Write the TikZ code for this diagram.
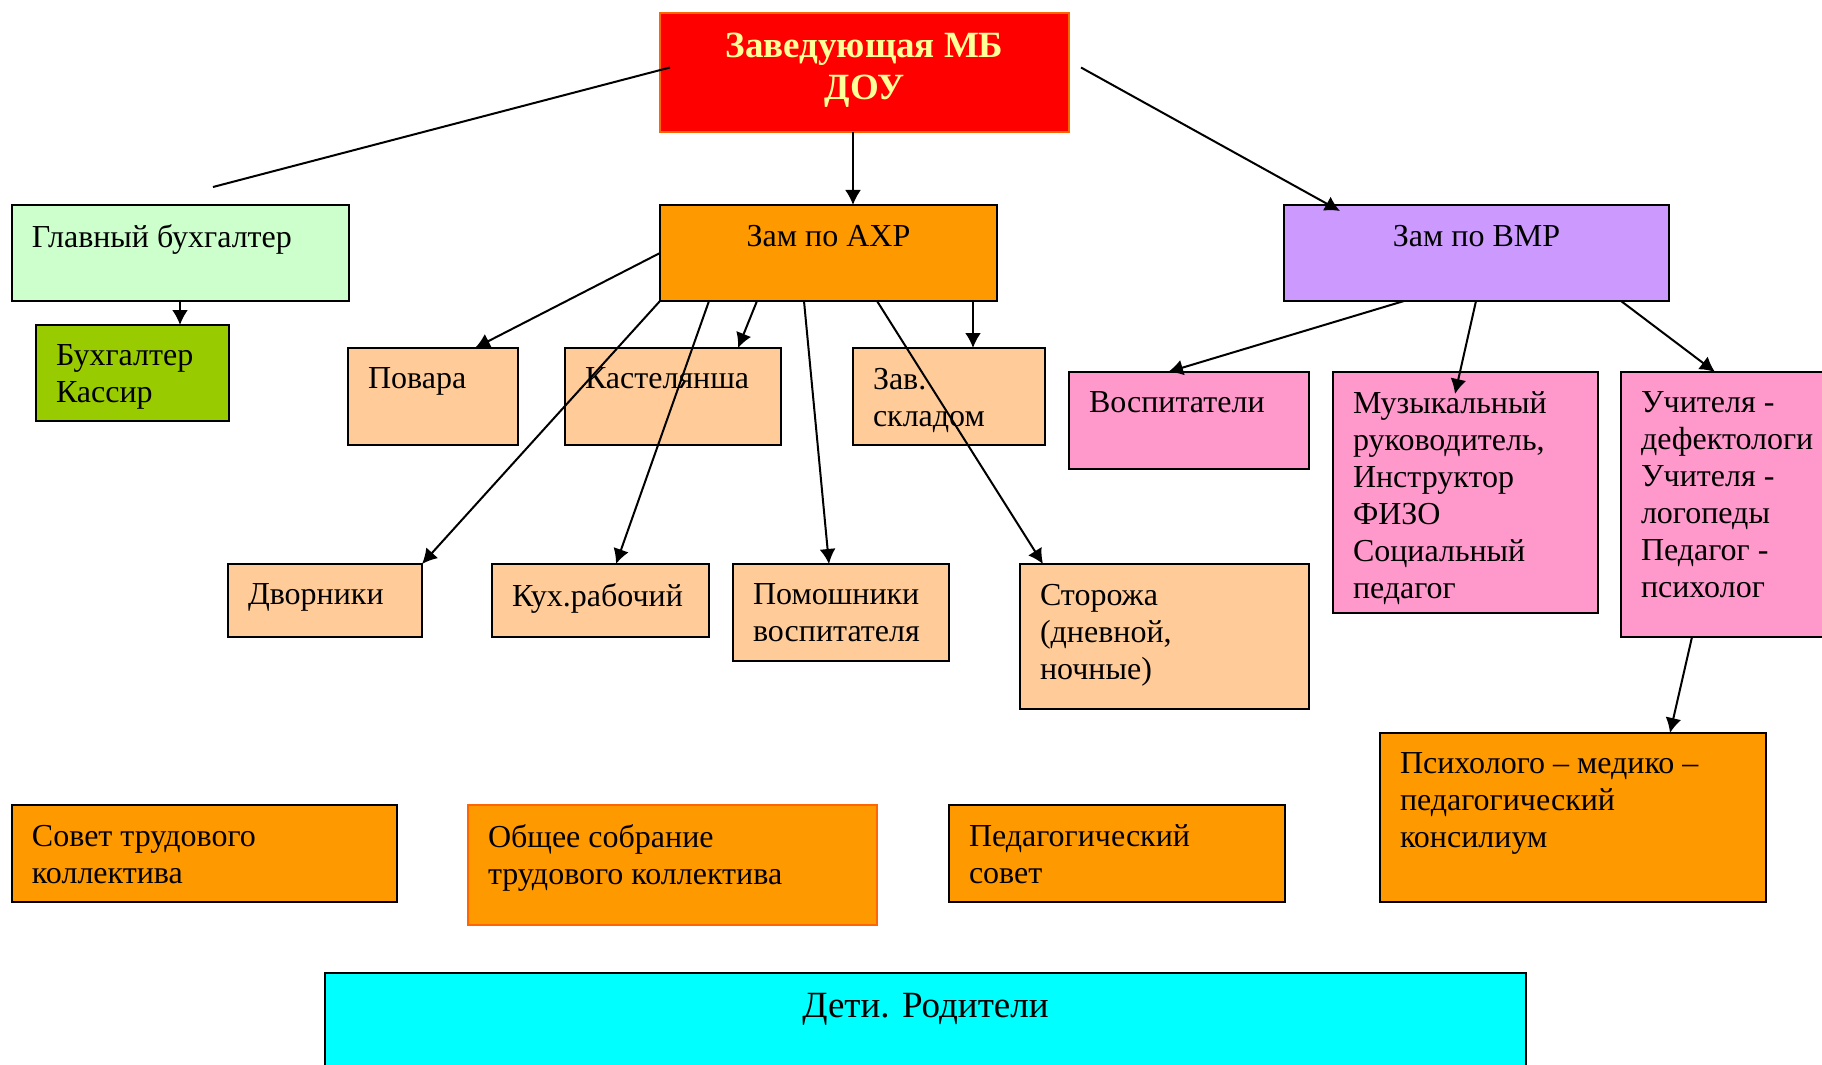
\documentclass[tikz,border=0pt]{standalone}
\usepackage{fontspec}
\setmainfont{Liberation Serif}
\usetikzlibrary{arrows.meta,calc}
\definecolor{headred}{HTML}{FF0000}
\definecolor{headline}{HTML}{FF6600}
\definecolor{headtext}{HTML}{FFFF99}
\definecolor{mint}{HTML}{CCFFCC}
\definecolor{lime}{HTML}{99CC00}
\definecolor{amber}{HTML}{FF9900}
\definecolor{lilac}{HTML}{CC99FF}
\definecolor{peach}{HTML}{FFCC99}
\definecolor{pinkbox}{HTML}{FF99CC}
\definecolor{aqua}{HTML}{00FFFF}
\newdimen\pxu \pxu=0.5pt
% box text: width, height (in px), text
\newcommand{\boxtext}[4][\raggedright]{\parbox[t][\dimexpr #3\pxu-20pt\relax][t]{\dimexpr #2\pxu-20pt\relax}{#1#4}}
\tikzset{
    box/.style ={draw, anchor=north west, inner sep=10pt, outer sep=0pt, font=\fontsize{16}{18.5}\selectfont},
    title/.style ={box, draw=headline, line width=0.8pt, fill=headred, text=headtext, font=\fontsize{18.5}{21}\selectfont\bfseries},
    staff/.style ={box, fill=peach},
    ped/.style ={box, fill=pinkbox},
    council/.style ={box, fill=amber}
}
\begin{document}
\begin{tikzpicture}[x=0.5pt, y=-0.5pt, line width=1pt, -{Latex[length=7.5pt,width=8pt]}]
    \useasboundingbox (0,0) rectangle (1822,1065);
    \clip (0,0) rectangle (1822,1065);

    \node[title] (head) at (660,13) {\boxtext[\centering]{409}{119}{Заведующая МБ\\ДОУ}};
    \node[box, fill=mint] (glavbuh) at (12,205) {\boxtext{337}{96}{Главный бухгалтер}};
    \node[box, fill=lime] (buhkass) at (36,325) {\boxtext{193}{96}{Бухгалтер\\Кассир}};
    \node[box, fill=amber] (zamahr) at (660,205) {\boxtext[\centering]{337}{96}{Зам по АХР}};
    \node[box, fill=lilac] (zamvmr) at (1284,205) {\boxtext[\centering]{385}{96}{Зам по ВМР}};

    \node[staff] (povara) at (348,348) {\boxtext{170}{97}{Повара}};
    \node[staff] (kastel) at (565,348) {\boxtext{216}{97}{Кастелянша}};
    \node[staff] (zavsklad) at (853,348) {\boxtext{192}{97}{Зав.\\складом}};
    \node[staff] (dvorn) at (228,564) {\boxtext{194}{73}{Дворники}};
    \node[staff] (kuhrab) at (492,564) {\boxtext{217}{73}{Кух.рабочий}};
    \node[staff] (pomvosp) at (733,564) {\boxtext{216}{97}{Помошники\\воспитателя}};
    \node[staff] (storozh) at (1020,564) {\boxtext{289}{145}{Сторожа\\(дневной,\\ночные)}};

    \node[ped] (vospit) at (1069,372) {\boxtext{240}{97}{Воспитатели}};
    \node[ped] (muzruk) at (1333,372) {\boxtext{265}{241}{Музыкальный\\руководитель,\\Инструктор\\ФИЗО\\Социальный\\педагог}};
    \node[ped] (uchitel) at (1621,372) {\boxtext{230}{265}{Учителя -\\дефектологи\\Учителя -\\логопеды\\Педагог -\\психолог}};
    \node[council] (pmpk) at (1380,733) {\boxtext{386}{169}{Психолого – медико –\\педагогический\\консилиум}};

    \node[council] (sovet) at (12,805) {\boxtext{385}{97}{Совет трудового\\коллектива}};
    \node[council, draw=headline] (sobranie) at (468,805) {\boxtext{409}{120}{Общее собрание\\трудового коллектива}};
    \node[council] (pedsovet) at (949,805) {\boxtext{336}{97}{Педагогический\\совет}};
    \node[box, fill=aqua, font=\fontsize{18.5}{21}\selectfont] (deti) at (325,973) {\boxtext[\centering]{1201}{130}{Дети. Родители}};

    % free ends of the two long lines from the head
    \coordinate (bufree) at ($(head.west)+(10,-5)$);
    \coordinate (bukend) at ($(glavbuh.north west)+(201,-18)$);
    \coordinate (vmrfree) at ($(head.east)+(12,-5)$);

    \draw[-] (bufree) -- (bukend);
    \draw (vmrfree) -- ($(zamvmr.north west)+(56,6)$);
    \draw ($(head.south west)+(193,0)$) -- ($(zamahr.north west)+(193,0)$);
    \draw ($(glavbuh.south west)+(168,0)$) -- ($(buhkass.north west)+(144,0)$);

    \draw (zamahr.west) -- ($(povara.north west)+(127,0)$);
    \draw ($(zamahr.south west)+(97,0)$) -- ($(kastel.north west)+(173,0)$);
    \draw ($(zamahr.south west)+(313,0)$) -- ($(zavsklad.north west)+(120,0)$);
    \draw (zamahr.south west) -- (dvorn.north east);
    \draw ($(zamahr.south west)+(49,0)$) -- ($(kuhrab.north west)+(124,0)$);
    \draw ($(zamahr.south west)+(144,0)$) -- ($(pomvosp.north west)+(96,0)$);
    \draw ($(zamahr.south west)+(217,0)$) -- ($(storozh.north west)+(23,0)$);

    \draw ($(zamvmr.south west)+(120,0)$) -- ($(vospit.north west)+(99,0)$);
    \draw ($(zamvmr.south west)+(192,0)$) -- ($(muzruk.north west)+(122,22)$);
    \draw ($(zamvmr.south west)+(337,0)$) -- ($(uchitel.north west)+(94,0)$);
    \draw ($(uchitel.south west)+(71,0)$) -- ($(pmpk.north west)+(290,0)$);
\end{tikzpicture}
\end{document}
